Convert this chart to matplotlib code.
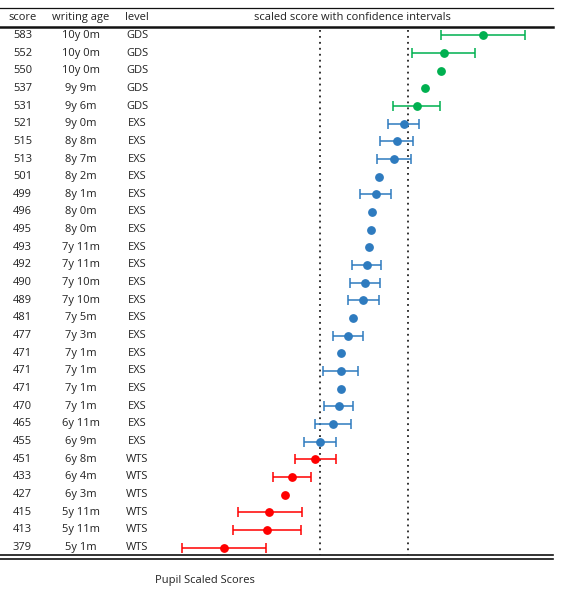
import numpy as np
import matplotlib
matplotlib.use("Agg")
import matplotlib.pyplot as plt
import matplotlib.transforms as mtransforms

plt.rcParams['font.family'] = ['Open Sans', 'DejaVu Sans']

# pupil data, highest score first
scores = [583, 552, 550, 537, 531, 521, 515, 513, 501, 499, 496, 495, 493, 492, 490,
          489, 481, 477, 471, 471, 471, 470, 465, 455, 451, 433, 427, 415, 413, 379]
ages = ["10y 0m", "10y 0m", "10y 0m", "9y 9m", "9y 6m", "9y 0m", "8y 8m", "8y 7m",
        "8y 2m", "8y 1m", "8y 0m", "8y 0m", "7y 11m", "7y 11m", "7y 10m", "7y 10m",
        "7y 5m", "7y 3m", "7y 1m", "7y 1m", "7y 1m", "7y 1m", "6y 11m", "6y 9m",
        "6y 8m", "6y 4m", "6y 3m", "5y 11m", "5y 11m", "5y 1m"]
levels = ["GDS"] * 5 + ["EXS"] * 19 + ["WTS"] * 6
nan = np.nan
ci_low = [550, 527, nan, nan, 512, 508, 502, 500, nan, 486, nan, nan, nan, 480, 478,
          477, nan, 465, nan, 457, nan, 458, 451, 442, 435, 418, nan, 390, 386, 346]
ci_high = [616, 577, nan, nan, 549, 533, 528, 526, nan, 511, nan, nan, nan, 503, 502,
           501, nan, 489, nan, 485, nan, 481, 479, 467, 467, 448, nan, 441, 440, 412]
thresholds = [455, 524]

level_colors = {"GDS": "#00b050", "EXS": "#2e7bbf", "WTS": "#ff0000"}
text_color = "#222222"

fig = plt.figure(figsize=(5.79, 5.98), dpi=100)
W = 553  # table width in px
ax = fig.add_axes([0, 1 - 558.5 / 598, W / 579, 550.5 / 598])
ax.set_xlim(203, 638.1)
ax.set_ylim(29.62, -1.55)
ax.axis("off")

# table rules
for y, lw in [(-1.55, 0.9), (-0.5, 1.8), (29.45, 1.2), (29.62, 1.2)]:
    ax.axhline(y, color="#111111", lw=lw, clip_on=False)

ax.vlines(thresholds, -0.3, 29.4, colors="#222222", linestyles=(0, (1, 2.3)), lw=1.3)

rows = np.arange(len(scores))
for i, s in enumerate(scores):
    c = level_colors[levels[i]]
    if not np.isnan(ci_low[i]):
        ax.errorbar(s, i, xerr=[[s - ci_low[i]], [ci_high[i] - s]], fmt="none",
                    ecolor=c, elinewidth=1.3, capsize=3.3, capthick=1.3, alpha=0.85)
    ax.plot(s, i, "o", color=c, markersize=5.3, zorder=3)

# table columns
tr = mtransforms.blended_transform_factory(ax.transAxes, ax.transData)
col_x = [22.5 / W, 81 / W, 137 / W]
headers = ["score", "writing age", "level"]
for x, h in zip(col_x, headers):
    ax.text(x, -1.03, h, transform=tr, ha="center", va="center", fontsize=8, color=text_color)
ax.text(352.5 / W, -1.03, "scaled score with confidence intervals", transform=tr,
        ha="center", va="center", fontsize=8, color=text_color)

for i in rows:
    for x, val in zip(col_x, [str(scores[i]), ages[i], levels[i]]):
        ax.text(x, i, val, transform=tr, ha="center", va="center", fontsize=8, color=text_color)

fig.text(205 / 579, 1 - 580 / 598, "Pupil Scaled Scores", ha="center", va="center",
         fontsize=8, color=text_color)

fig.savefig("out.png", dpi=100)
